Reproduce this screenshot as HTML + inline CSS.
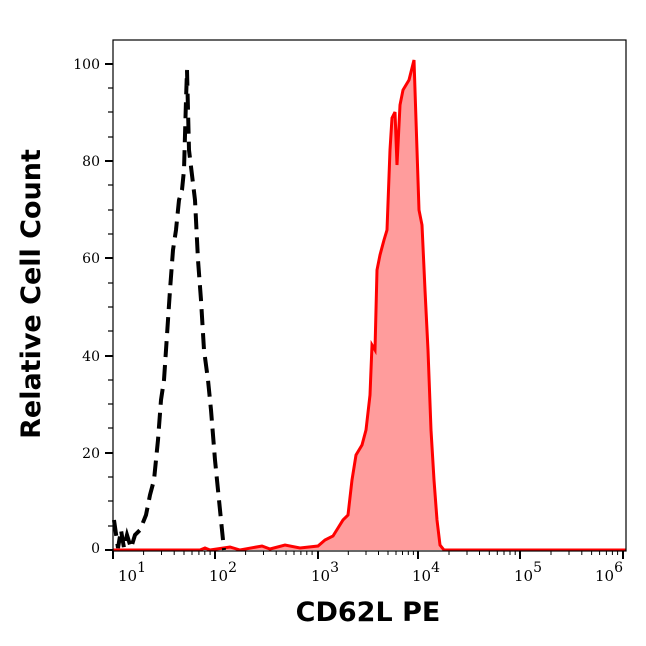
<!DOCTYPE html>
<html><head><style>body{margin:0;background:#fff}</style></head><body>
<svg width="646" height="641" xmlns="http://www.w3.org/2000/svg" font-family="DejaVu Serif, serif">
<rect x="0" y="0" width="646" height="641" fill="#fff"/>
<path d="M113,550 L200,550 L205,548 L210,550 L230,547 L240,550 L262,546 L270,549 L285,545 L300,548 L318,546 L325,540 L333,536 L338,528 L343,520 L348,515 L352,480 L356,455 L362,445 L366,430 L370,395 L372,345 L375,350 L377,270 L380,255 L384,240 L387,230 L390,150 L392,118 L395,112 L397,165 L400,105 L403,90 L406,85 L409,80 L412,68 L414,60 L416,120 L419,210 L422,225 L425,290 L428,350 L431,430 L434,480 L437,520 L440,545 L444,550 L626,550 Z" fill="#ff9c9c" stroke="none"/>
<path d="M113,550 L200,550 L205,548 L210,550 L230,547 L240,550 L262,546 L270,549 L285,545 L300,548 L318,546 L325,540 L333,536 L338,528 L343,520 L348,515 L352,480 L356,455 L362,445 L366,430 L370,395 L372,345 L375,350 L377,270 L380,255 L384,240 L387,230 L390,150 L392,118 L395,112 L397,165 L400,105 L403,90 L406,85 L409,80 L412,68 L414,60 L416,120 L419,210 L422,225 L425,290 L428,350 L431,430 L434,480 L437,520 L440,545 L444,550 L626,550" fill="none" stroke="#f00" stroke-width="3"/>
<path d="M114,520 L118,548 L121,530 L124,548 L127,535 L131,548 L135,535 L140,530 L146,515 L150,495 L154,480 L158,440 L161,400 L164,380 L166,350 L170,290 L173,250 L176,230 L179,200 L182,190 L184,170 L186,100 L187,70 L189,150 L192,175 L195,200 L198,260 L201,300 L204,350 L208,380 L211,410 L215,460 L219,500 L222,530 L224,550" fill="none" stroke="#000" stroke-width="4" stroke-dasharray="16,8"/>
<rect x="113" y="40" width="513" height="511" fill="none" stroke="#000" stroke-width="1.2"/>
<g stroke="#000" stroke-width="1.2">
<line x1="105" y1="64" x2="113" y2="64" stroke-width="2"/><line x1="105" y1="161" x2="113" y2="161" stroke-width="2"/><line x1="105" y1="258" x2="113" y2="258" stroke-width="2"/><line x1="105" y1="356" x2="113" y2="356" stroke-width="2"/><line x1="105" y1="453" x2="113" y2="453" stroke-width="2"/><line x1="105" y1="550" x2="113" y2="550" stroke-width="2"/>
<line x1="108" y1="88" x2="113" y2="88"/><line x1="108" y1="112" x2="113" y2="112"/><line x1="108" y1="137" x2="113" y2="137"/><line x1="108" y1="185" x2="113" y2="185"/><line x1="108" y1="210" x2="113" y2="210"/><line x1="108" y1="234" x2="113" y2="234"/><line x1="108" y1="283" x2="113" y2="283"/><line x1="108" y1="307" x2="113" y2="307"/><line x1="108" y1="331" x2="113" y2="331"/><line x1="108" y1="380" x2="113" y2="380"/><line x1="108" y1="404" x2="113" y2="404"/><line x1="108" y1="428" x2="113" y2="428"/><line x1="108" y1="477" x2="113" y2="477"/><line x1="108" y1="501" x2="113" y2="501"/><line x1="108" y1="526" x2="113" y2="526"/>
<line x1="113" y1="551" x2="113" y2="559" stroke-width="2"/><line x1="215" y1="551" x2="215" y2="559" stroke-width="2"/><line x1="318" y1="551" x2="318" y2="559" stroke-width="2"/><line x1="418" y1="551" x2="418" y2="559" stroke-width="2"/><line x1="520" y1="551" x2="520" y2="559" stroke-width="2"/><line x1="623" y1="551" x2="623" y2="559" stroke-width="2"/>
</g>
<g stroke="#000" stroke-width="1">
<path d="M143.6,551v4M161.5,551v4M174.2,551v4M184,551v4M192,551v4M198.9,551v4M204.8,551v4M210.1,551v4"/>
<path d="M245.6,551v4M263.5,551v4M276.2,551v4M286,551v4M294,551v4M300.9,551v4M306.8,551v4M312.1,551v4"/>
<path d="M348.3,551v4M366,551v4M378.5,551v4M388,551v4M396,551v4M402.5,551v4M408.3,551v4M413.4,551v4"/>
<path d="M449,551v4M467,551v4M479.5,551v4M489.3,551v4M497.3,551v4M504,551v4M510,551v4M515.2,551v4"/>
<path d="M551,551v4M569,551v4M581.8,551v4M591.6,551v4M599.6,551v4M606.4,551v4M612.4,551v4M617.6,551v4"/>
</g>
<g font-size="14" text-anchor="end">
<text x="100" y="69">100</text><text x="100" y="166">80</text><text x="100" y="263">60</text><text x="100" y="361">40</text><text x="100" y="458">20</text><text x="100" y="553">0</text>
</g>
<g font-size="15">
<text x="118" y="581">10<tspan dy="-9" font-size="14">1</tspan></text>
<text x="209" y="581">10<tspan dy="-9" font-size="14">2</tspan></text>
<text x="311" y="581">10<tspan dy="-9" font-size="14">3</tspan></text>
<text x="412" y="581">10<tspan dy="-9" font-size="14">4</tspan></text>
<text x="514" y="581">10<tspan dy="-9" font-size="14">5</tspan></text>
<text x="595" y="581">10<tspan dy="-9" font-size="14">6</tspan></text>
</g>
<text x="368" y="621" font-family="DejaVu Sans, sans-serif" font-weight="bold" font-size="27" text-anchor="middle">CD62L PE</text>
<text transform="translate(40,294) rotate(-90)" font-family="DejaVu Sans, sans-serif" font-weight="bold" font-size="27" text-anchor="middle">Relative Cell Count</text>
</svg>
</body></html>
